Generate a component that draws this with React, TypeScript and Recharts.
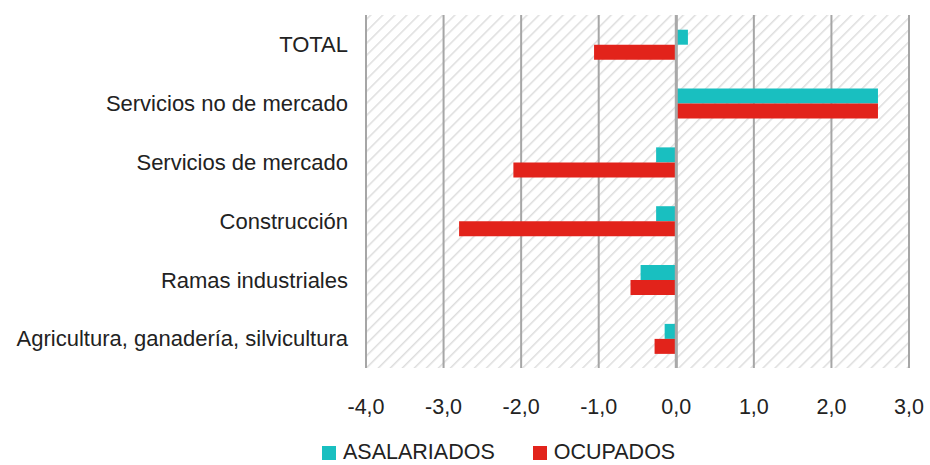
import React from 'react';
import {
  BarChart,
  Bar,
  XAxis,
  YAxis,
  CartesianGrid,
  ReferenceLine,
  Legend,
} from 'recharts';

const categories = [
  'TOTAL',
  'Servicios no de mercado',
  'Servicios de mercado',
  'Construcción',
  'Ramas industriales',
  'Agricultura, ganadería, silvicultura',
];
const asalariados = [0.15, 2.6, -0.26, -0.26, -0.46, -0.15];
const ocupados = [-1.06, 2.6, -2.1, -2.8, -0.59, -0.28];
const xTicks = [-4, -3, -2, -1, 0, 1, 2, 3];

const TEAL = '#19BFC0';
const RED = '#E2231B';
const FONT = 'Arial, "Liberation Sans", sans-serif';

const data = categories.map((name, i) => ({
  name,
  asalariados: asalariados[i],
  ocupados: ocupados[i],
}));

const fmt = (v: number) => v.toFixed(1).replace('.', ',');

function LegendContent() {
  const items = [
    { label: 'ASALARIADOS', color: TEAL },
    { label: 'OCUPADOS', color: RED },
  ];
  return (
    <div
      style={{
        display: 'flex',
        justifyContent: 'flex-start',
        gap: 38,
        fontFamily: FONT,
        fontSize: 21.5,
        lineHeight: '25px',
        height: 25,
        color: '#222',
        paddingLeft: 322,
      }}
    >
      {items.map((it) => (
        <div key={it.label} style={{ display: 'flex', alignItems: 'center' }}>
          <span style={{ display: 'inline-block', width: 14, height: 14, background: it.color, marginRight: 7 }} />
          <span>{it.label}</span>
        </div>
      ))}
    </div>
  );
}

export default function App() {
  return (
    <div style={{ position: 'absolute', left: 0, top: 0, width: 930, height: 465, background: '#fff' }}>
      <BarChart
        width={930}
        height={465}
        data={data}
        layout="vertical"
        margin={{ top: 15, right: 21, bottom: 0, left: 0 }}
        barCategoryGap="25%"
        barGap={0}
      >
        <defs>
          <pattern id="hatch" patternUnits="userSpaceOnUse" width="8.5" height="8.5" patternTransform="rotate(45)">
            <rect width="8.5" height="8.5" fill="#ffffff" />
            <line x1="0" y1="0" x2="0" y2="8.5" stroke="#dedede" strokeWidth="3" />
          </pattern>
        </defs>
        <CartesianGrid horizontal={false} stroke="#a6a6a6" strokeWidth={2} fill="url(#hatch)" />
        <XAxis
          type="number"
          domain={[-4, 3]}
          ticks={xTicks}
          tickFormatter={fmt}
          axisLine={false}
          tickLine={false}
          tickMargin={25}
          height={72}
          tick={{ fill: '#222', fontSize: 21.5, fontFamily: FONT }}
        />
        <YAxis
          type="category"
          dataKey="name"
          width={366}
          axisLine={false}
          tickLine={false}
          tickMargin={12}
          interval={0}
          tick={{ fill: '#222', fontSize: 22, fontFamily: FONT }}
        />
        <ReferenceLine x={0} stroke="#a9a9a9" strokeWidth={3} />
        <Bar dataKey="asalariados" name="ASALARIADOS" fill={TEAL} isAnimationActive={false} />
        <Bar dataKey="ocupados" name="OCUPADOS" fill={RED} isAnimationActive={false} />
        <Legend verticalAlign="bottom" content={<LegendContent />} />
      </BarChart>
    </div>
  );
}
